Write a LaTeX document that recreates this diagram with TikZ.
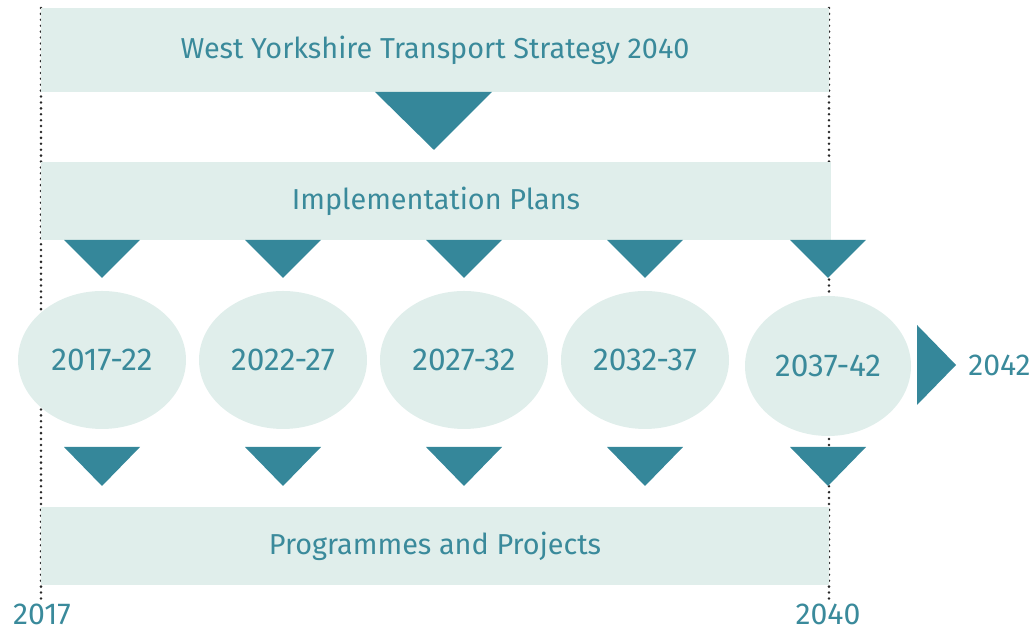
\documentclass[tikz,border=0pt]{standalone}
\usepackage{fontspec}
\setmainfont{Fira Sans}
\usepackage{tikz}
\usetikzlibrary{shapes.geometric,positioning,calc}
\definecolor{wyTeal}{RGB}{53,135,154}
\definecolor{wyText}{RGB}{58,138,155}
\definecolor{wyPale}{RGB}{224,238,235}
\definecolor{wyDot}{RGB}{40,40,40}

\begin{document}
\begin{tikzpicture}[
    band/.style={rectangle, fill=wyPale, text=wyText, minimum width=19.7cm, minimum height=1.95cm, inner sep=0pt, font=\fontsize{20.5}{24}\selectfont},
    period/.style={ellipse, fill=wyPale, text=wyText, minimum width=4.2cm, minimum height=3.45cm, inner sep=0pt, font=\fontsize{22.5}{26}\selectfont},
    yearlbl/.style={text=wyText, inner sep=0pt, font=\fontsize{21.5}{24}\selectfont},
    tri/.style={fill=wyTeal},
    guide/.style={wyDot, line width=2pt, dash pattern=on 0pt off 4.2pt, line cap=round}
]
    \useasboundingbox (0,0) rectangle (25.8,15.8);

    % Guides
    \coordinate (g1top) at (1.025,15.6);
    \coordinate (g1bot) at (1.025,0.8);
    \coordinate (g2top) at (20.725,15.6);
    \coordinate (g2bot) at (20.725,0.8);
    \draw[guide] (g1top) -- (g1bot);
    \draw[guide] (g2top) -- (g2bot);

    % Bands
    \node[band, minimum height=2.1cm] (strategy) at (10.875,14.55) {West Yorkshire Transport Strategy 2040};
    \node[band, minimum width=19.75cm] (plans) at (10.9,10.775) {Implementation Plans};
    \node[band] (projects) at (10.875,2.15) {Programmes and Projects};

    % Big arrow
    \fill[tri] (9.375,13.5) -- (12.3,13.5) -- (10.85,12.05) -- cycle;

    % Periods
    \node[period] (p1) at (2.55,6.8) {2017-22};
    \node[period] (p2) at (7.075,6.8) {2022-27};
    \node[period] (p3) at (11.6,6.8) {2027-32};
    \node[period] (p4) at (16.125,6.8) {2032-37};
    \node[period, minimum width=4.15cm, minimum height=3.5cm] (p5) at (20.7,6.65) {2037-42};

    % Small arrows
    \foreach \x in {2.55,7.075,11.6,16.125,20.7} {
        \fill[tri] (\x-0.95,9.8) -- (\x+0.95,9.8) -- (\x,8.85) -- cycle;
        \fill[tri] (\x-0.95,4.625) -- (\x+0.95,4.625) -- (\x,3.65) -- cycle;
    }

    % End arrow
    \fill[tri] (22.925,7.675) -- (23.9,6.675) -- (22.925,5.675) -- cycle;
    \coordinate (tip) at (23.9,6.675);
    \node[yearlbl, right=0.3cm of tip] (y2042) {2042};

    % Years
    \node[yearlbl] (y2017) at (1.05,0.45) {2017};
    \node[yearlbl] (y2040) at (20.7,0.45) {2040};
\end{tikzpicture}
\end{document}
